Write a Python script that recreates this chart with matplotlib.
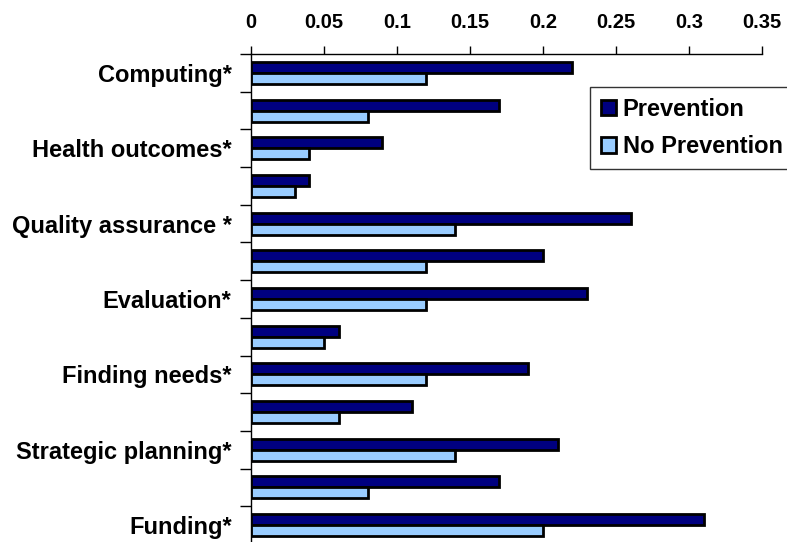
import numpy as np
import matplotlib.pyplot as plt

# categories top to bottom, every other label left blank
categories = ['Computing*', '', 'Health outcomes*', '', 'Quality assurance *', '',
              'Evaluation*', '', 'Finding needs*', '', 'Strategic planning*', '',
              'Funding*']
prevention = [0.22, 0.17, 0.09, 0.04, 0.26, 0.20, 0.23, 0.06, 0.19, 0.11, 0.21, 0.17, 0.31]
no_prevention = [0.12, 0.08, 0.04, 0.03, 0.14, 0.12, 0.12, 0.05, 0.12, 0.06, 0.14, 0.08, 0.20]
x_ticks = [0, 0.05, 0.1, 0.15, 0.2, 0.25, 0.3, 0.35]
x_ticklabels = ['0', '0.05', '0.1', '0.15', '0.2', '0.25', '0.3', '0.35']

plt.rcParams['font.family'] = ['Liberation Sans', 'DejaVu Sans']
plt.rcParams['font.weight'] = 'bold'

fig = plt.figure(figsize=(7.87, 5.42), dpi=100)
ax = fig.add_axes([251/787, 1 - 544/542, 511/787, 490/542])

y = np.arange(len(categories))
h = 0.29
ax.barh(y - 0.146, prevention, height=h, color='#000080', edgecolor='black',
        linewidth=2, label='Prevention')
ax.barh(y + 0.146, no_prevention, height=h, color='#99CCFF', edgecolor='black',
        linewidth=2, label='No Prevention')

ax.set_xlim(0, 0.35)
ax.set_ylim(len(categories) - 0.5, -0.5)

# x axis on top
ax.xaxis.tick_top()
ax.set_xticks(x_ticks)
ax.set_xticklabels(x_ticklabels, fontsize=14.5, fontweight='bold')
ax.tick_params(axis='x', direction='out', length=6, width=1, pad=10)

# y ticks between groups, labels on group centres
ax.set_yticks(np.arange(-0.5, len(categories), 1.0))
ax.set_yticklabels([])
ax.tick_params(axis='y', which='major', direction='out', length=8, width=1)
ax.set_yticks(y, minor=True)
ax.set_yticklabels(categories, minor=True, fontsize=17, fontweight='bold')
ax.tick_params(axis='y', which='minor', length=0, pad=14)

ax.spines['right'].set_visible(False)
ax.spines['bottom'].set_visible(False)
ax.spines['top'].set_linewidth(1)
ax.spines['left'].set_linewidth(1)

leg = ax.legend(loc='upper left', bbox_to_anchor=(590/787, 1 - 87/542),
                bbox_transform=fig.transFigure, fontsize=17, frameon=True,
                fancybox=False, handlelength=0.64, handleheight=0.62,
                handletextpad=0.3, labelspacing=0.62, borderpad=0.45,
                borderaxespad=0)
leg.get_frame().set_edgecolor('black')
leg.get_frame().set_linewidth(1)
for t in leg.get_texts():
    t.set_fontweight('bold')

fig.savefig('out.png', dpi=100)
